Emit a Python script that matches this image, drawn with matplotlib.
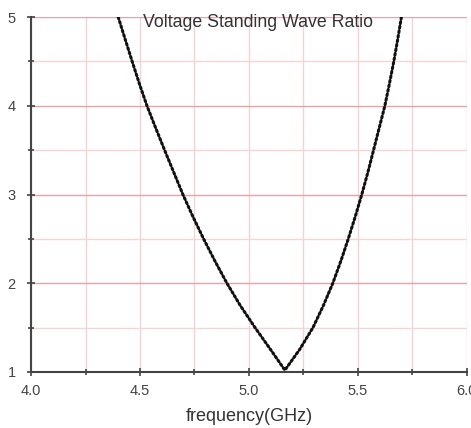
import matplotlib
matplotlib.use("Agg")
import matplotlib.pyplot as plt
from matplotlib.ticker import MultipleLocator

# values (left branch, minimum, right branch)
freq_ghz = [4.400, 4.432, 4.464, 4.497, 4.532, 4.572, 4.613, 4.655, 4.697,
            4.743, 4.792, 4.844, 4.899, 4.960, 5.028, 5.100, 5.165,
            5.232, 5.294, 5.342, 5.385, 5.422, 5.456, 5.488, 5.518,
            5.546, 5.572, 5.598, 5.624, 5.645, 5.665, 5.683, 5.700]
vswr = [5.0, 4.75, 4.5, 4.25, 4.0, 3.75, 3.5, 3.25, 3.0,
        2.75, 2.5, 2.25, 2.0, 1.75, 1.5, 1.25, 1.02,
        1.25, 1.5, 1.75, 2.0, 2.25, 2.5, 2.75, 3.0,
        3.25, 3.5, 3.75, 4.0, 4.25, 4.5, 4.75, 5.0]
x_ticks = [4.0, 4.5, 5.0, 5.5, 6.0]
y_ticks = [1, 2, 3, 4, 5]
title = 'Voltage Standing Wave Ratio'
x_lab = 'frequency(GHz)'

plt.rcParams['font.family'] = ['Liberation Sans', 'DejaVu Sans']

fig = plt.figure(figsize=(4.71, 4.28), dpi=100)
ax = fig.add_axes([0.066, 0.131, 0.925, 0.829])

ax.set_xlim(4.0, 6.0)
ax.set_ylim(1, 5)

# pink grid: integer lines stronger, half lines and verticals lighter
ax.xaxis.set_minor_locator(MultipleLocator(0.25))
ax.yaxis.set_minor_locator(MultipleLocator(0.5))
ax.set_xticks(x_ticks)
ax.set_yticks(y_ticks)
ax.grid(axis='y', which='major', color='#e8a2aa', lw=1.0)
ax.grid(axis='y', which='minor', color='#f5d3d7', lw=1.0)
ax.grid(axis='x', which='both', color='#f4d2d6', lw=1.0)
ax.set_axisbelow(True)

ax.plot(freq_ghz, vswr, color='#111111', lw=2.2,
        linestyle=(0, (0.6, 0.9)), dash_capstyle='round', zorder=3)

for side in ['top', 'right']:
    ax.spines[side].set_visible(False)
for side in ['left', 'bottom']:
    ax.spines[side].set_color('#444444')
    ax.spines[side].set_linewidth(1.5)

ax.set_xticklabels(['%.1f' % v for v in x_ticks])
ax.set_yticklabels([str(v) for v in y_ticks])
ax.tick_params(which='both', direction='inout', color='#444444', width=1.2,
               labelsize=10.5, labelcolor='#444444')
ax.tick_params(which='major', length=6)
ax.tick_params(which='minor', length=5)
ax.tick_params(axis='x', pad=6)
ax.tick_params(axis='y', pad=8)

ax.text(0.52, 1.008, title, transform=ax.transAxes, ha='center', va='top',
        fontsize=12.8, color='#333333')
ax.set_xlabel(x_lab, fontsize=13, color='#333333', labelpad=7)

fig.savefig('out.png', dpi=100)
